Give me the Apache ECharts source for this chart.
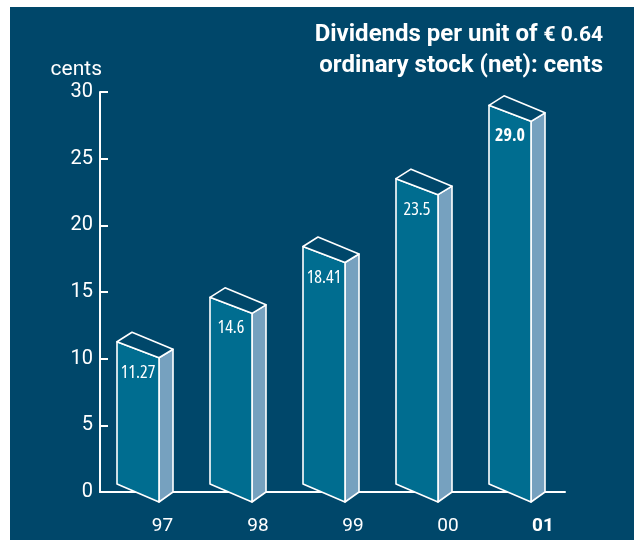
<!DOCTYPE html>
<html>
<head>
<meta charset="utf-8">
<script src="https://cdn.jsdelivr.net/npm/echarts@6/dist/echarts.min.js"></script>
<style>
  html, body { margin: 0; padding: 0; background: #fff; }
  #chart { width: 639px; height: 540px; }
</style>
</head>
<body>
<div id="chart"></div>
<script>
// 年份 / 数值
var years = ['97', '98', '99', '00', '01']
var dividends = [11.27, 14.6, 18.41, 23.5, 29.0]
var valueLabels = ['11.27', '14.6', '18.41', '23.5', '29.0']
var yTicks = [0, 5, 10, 15, 20, 25, 30]

var FONT = 'Roboto, "Noto Sans", sans-serif'
var BG = '#00476a'
var FRONT = '#006d90'
var SIDE = '#76a1bf'

// 年份标签略微右移（原图标签间距比分类宽）
var labelShift = [32, 37, 41, 45, 49]

// 立体柱子
function renderBar(params, api) {
  var idx = api.value(0)
  var top = api.coord([idx, api.value(1)])
  var base = api.coord([idx, 0])
  var c = top[0]
  var yv = top[1]
  var y0 = base[1]
  var line = { stroke: '#fff', lineWidth: 1.6, lineJoin: 'round' }
  var last = idx === years.length - 1
  return {
    type: 'group',
    children: [
      {
        type: 'polygon',
        shape: { points: [[c + 12.5, yv + 16], [c + 26.5, yv + 7.5], [c + 26.5, y0], [c + 12.5, y0 + 10]] },
        style: Object.assign({ fill: SIDE }, line)
      },
      {
        type: 'polygon',
        shape: { points: [[c - 29.5, yv], [c + 12.5, yv + 16], [c + 12.5, y0 + 10], [c - 29.5, y0 - 8]] },
        style: Object.assign({ fill: FRONT }, line)
      },
      {
        type: 'polygon',
        shape: { points: [[c - 29.5, yv], [c - 14.5, yv - 9.5], [c + 26.5, yv + 7.5], [c + 12.5, yv + 16]] },
        style: Object.assign({ fill: BG }, line)
      },
      {
        type: 'text',
        x: c - 8.5,
        y: yv + 31,
        style: {
          text: valueLabels[idx],
          fill: '#fff',
          font: (last ? 'bold ' : '') + 'condensed 18px "Open Sans"',
          align: 'center',
          verticalAlign: 'middle'
        }
      }
    ]
  }
}

var xRich = {}
labelShift.forEach(function (s, i) {
  xRich['r' + i] = {
    color: '#fff',
    fontFamily: FONT,
    fontSize: 19,
    fontWeight: i === years.length - 1 ? 'bold' : 'normal',
    padding: [0, 0, 0, s]
  }
})

var chart = echarts.init(document.getElementById('chart'))

chart.setOption({
  backgroundColor: '#fff',
  animation: false,
  graphic: [
    { type: 'rect', left: 10, top: 7, shape: { width: 624, height: 533 }, style: { fill: BG }, z: -10 },
    {
      type: 'text',
      x: 603,
      y: 35,
      style: {
        text: 'Dividends per unit of {eur|€ 0.64}',
        fill: '#fff',
        font: 'bold 24px ' + FONT,
        align: 'right',
        verticalAlign: 'middle',
        rich: { eur: { fill: '#fff', font: 'bold 21px ' + FONT, padding: [2, 0, 0, 0] } }
      }
    },
    {
      type: 'text',
      x: 603,
      y: 66,
      style: {
        text: 'ordinary stock (net): cents',
        fill: '#fff',
        font: 'bold 24px ' + FONT,
        align: 'right',
        verticalAlign: 'middle'
      }
    }
  ],
  grid: { left: 100, right: 74, top: 92, bottom: 48 },
  xAxis: {
    type: 'category',
    data: years,
    axisLine: { lineStyle: { color: '#fff', width: 2 } },
    axisTick: { inside: true, length: 10, lineStyle: { color: '#fff', width: 2 } },
    axisLabel: {
      color: '#fff',
      fontFamily: FONT,
      fontSize: 19,
      margin: 25,
      formatter: function (v, i) {
        return '{r' + i + '|' + v + '}'
      },
      rich: xRich
    }
  },
  yAxis: {
    type: 'value',
    min: yTicks[0],
    max: yTicks[yTicks.length - 1],
    interval: 5,
    name: 'cents',
    nameLocation: 'end',
    nameGap: 12,
    nameTextStyle: { color: '#fff', fontFamily: FONT, fontSize: 21, align: 'right', padding: [0, -2, 0, 0] },
    splitLine: { show: false },
    axisLine: { show: true, lineStyle: { color: '#fff', width: 2 } },
    axisTick: { show: true, inside: true, length: 8, lineStyle: { color: '#fff', width: 2 } },
    axisLabel: { color: '#fff', fontFamily: FONT, fontSize: 20, margin: 7 }
  },
  series: [
    {
      type: 'custom',
      renderItem: renderBar,
      data: dividends.map(function (v, i) { return [i, v] }),
      z: 5
    }
  ]
})
</script>
</body>
</html>
